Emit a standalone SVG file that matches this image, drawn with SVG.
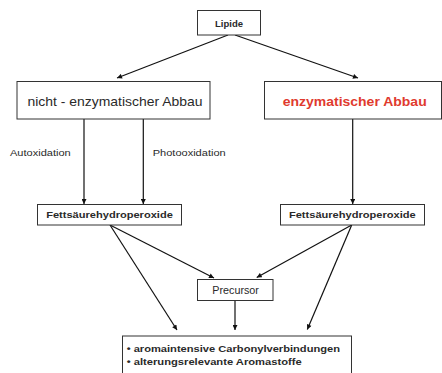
<svg xmlns="http://www.w3.org/2000/svg" width="442" height="373" viewBox="0 0 442 373">
<style>
.box{fill:#fff;stroke:#333;stroke-width:1}
.t{font-family:"Liberation Sans",Arial,sans-serif;fill:#2a2a2a}
.b{font-weight:bold}
.c{stroke:#111;stroke-width:1.2;fill:none}
</style>
<defs>
<marker id="ah" viewBox="0 0 10 10" refX="10" refY="5" markerWidth="6" markerHeight="5" markerUnits="userSpaceOnUse" orient="auto">
<path d="M0,0 L10,5 L0,10 z" fill="#111"/>
</marker>
</defs>
<rect width="442" height="373" fill="#fff"/>
<g id="connectors">
<line class="c" x1="228" y1="35" x2="117" y2="78" marker-end="url(#ah)"/>
<line class="c" x1="235" y1="35" x2="358" y2="78" marker-end="url(#ah)"/>
<line class="c" x1="84" y1="119" x2="84" y2="204" marker-end="url(#ah)"/>
<line class="c" x1="143.3" y1="119" x2="143.3" y2="204" marker-end="url(#ah)"/>
<line class="c" x1="352.7" y1="118" x2="352.7" y2="204" marker-end="url(#ah)"/>
<line class="c" x1="110" y1="225" x2="214" y2="278" marker-end="url(#ah)"/>
<line class="c" x1="110" y1="225" x2="177" y2="330" marker-end="url(#ah)"/>
<line class="c" x1="351.7" y1="225" x2="256.7" y2="277.5" marker-end="url(#ah)"/>
<line class="c" x1="351.7" y1="225" x2="307.3" y2="329.5" marker-end="url(#ah)"/>
<line class="c" x1="235" y1="301" x2="235" y2="330" marker-end="url(#ah)"/>
</g>
<g id="lipide">
<rect class="box" x="197.5" y="10.5" width="63" height="24.5"/>
<text class="t b" x="229" y="26.5" font-size="9.5" text-anchor="middle">Lipide</text>
</g>
<g id="nicht-enzymatisch">
<rect class="box" x="17" y="81.5" width="193" height="37.5"/>
<text class="t" x="115" y="105.5" font-size="13" text-anchor="middle" textLength="175" lengthAdjust="spacingAndGlyphs">nicht - enzymatischer Abbau</text>
</g>
<g id="enzymatisch">
<rect class="box" x="264.5" y="81.5" width="177" height="37.5"/>
<text class="t b" x="354.7" y="105.5" font-size="13" text-anchor="middle" fill="#e03a2e" style="fill:#e03a2e" textLength="144" lengthAdjust="spacingAndGlyphs">enzymatischer Abbau</text>
</g>
<g id="label-auto">
<text class="t" x="10" y="156" font-size="9" textLength="60.7" lengthAdjust="spacingAndGlyphs">Autoxidation</text>
</g>
<g id="label-photo">
<text class="t" x="152.7" y="156" font-size="9" textLength="73" lengthAdjust="spacingAndGlyphs">Photooxidation</text>
</g>
<g id="fhp-left">
<rect class="box" x="37.5" y="204.5" width="144" height="20.5"/>
<text class="t b" x="109.5" y="217.5" font-size="9.5" text-anchor="middle" textLength="126.7" lengthAdjust="spacingAndGlyphs">Fettsäurehydroperoxide</text>
</g>
<g id="fhp-right">
<rect class="box" x="280.5" y="204.5" width="144" height="20.5"/>
<text class="t b" x="352.3" y="217.5" font-size="9.5" text-anchor="middle" textLength="126.7" lengthAdjust="spacingAndGlyphs">Fettsäurehydroperoxide</text>
</g>
<g id="precursor">
<rect class="box" x="197.5" y="279.5" width="75.5" height="21"/>
<text class="t" x="235.6" y="294.3" font-size="10" text-anchor="middle" textLength="46.7" lengthAdjust="spacingAndGlyphs">Precursor</text>
</g>
<g id="produkte">
<rect class="box" x="122.5" y="336" width="229" height="45"/>
<text class="t b" x="126.7" y="351.7" font-size="9.5" textLength="213.3" lengthAdjust="spacingAndGlyphs">• aromaintensive Carbonylverbindungen</text>
<text class="t b" x="126.7" y="365.2" font-size="9.5" textLength="175" lengthAdjust="spacingAndGlyphs">• alterungsrelevante Aromastoffe</text>
</g>
</svg>
